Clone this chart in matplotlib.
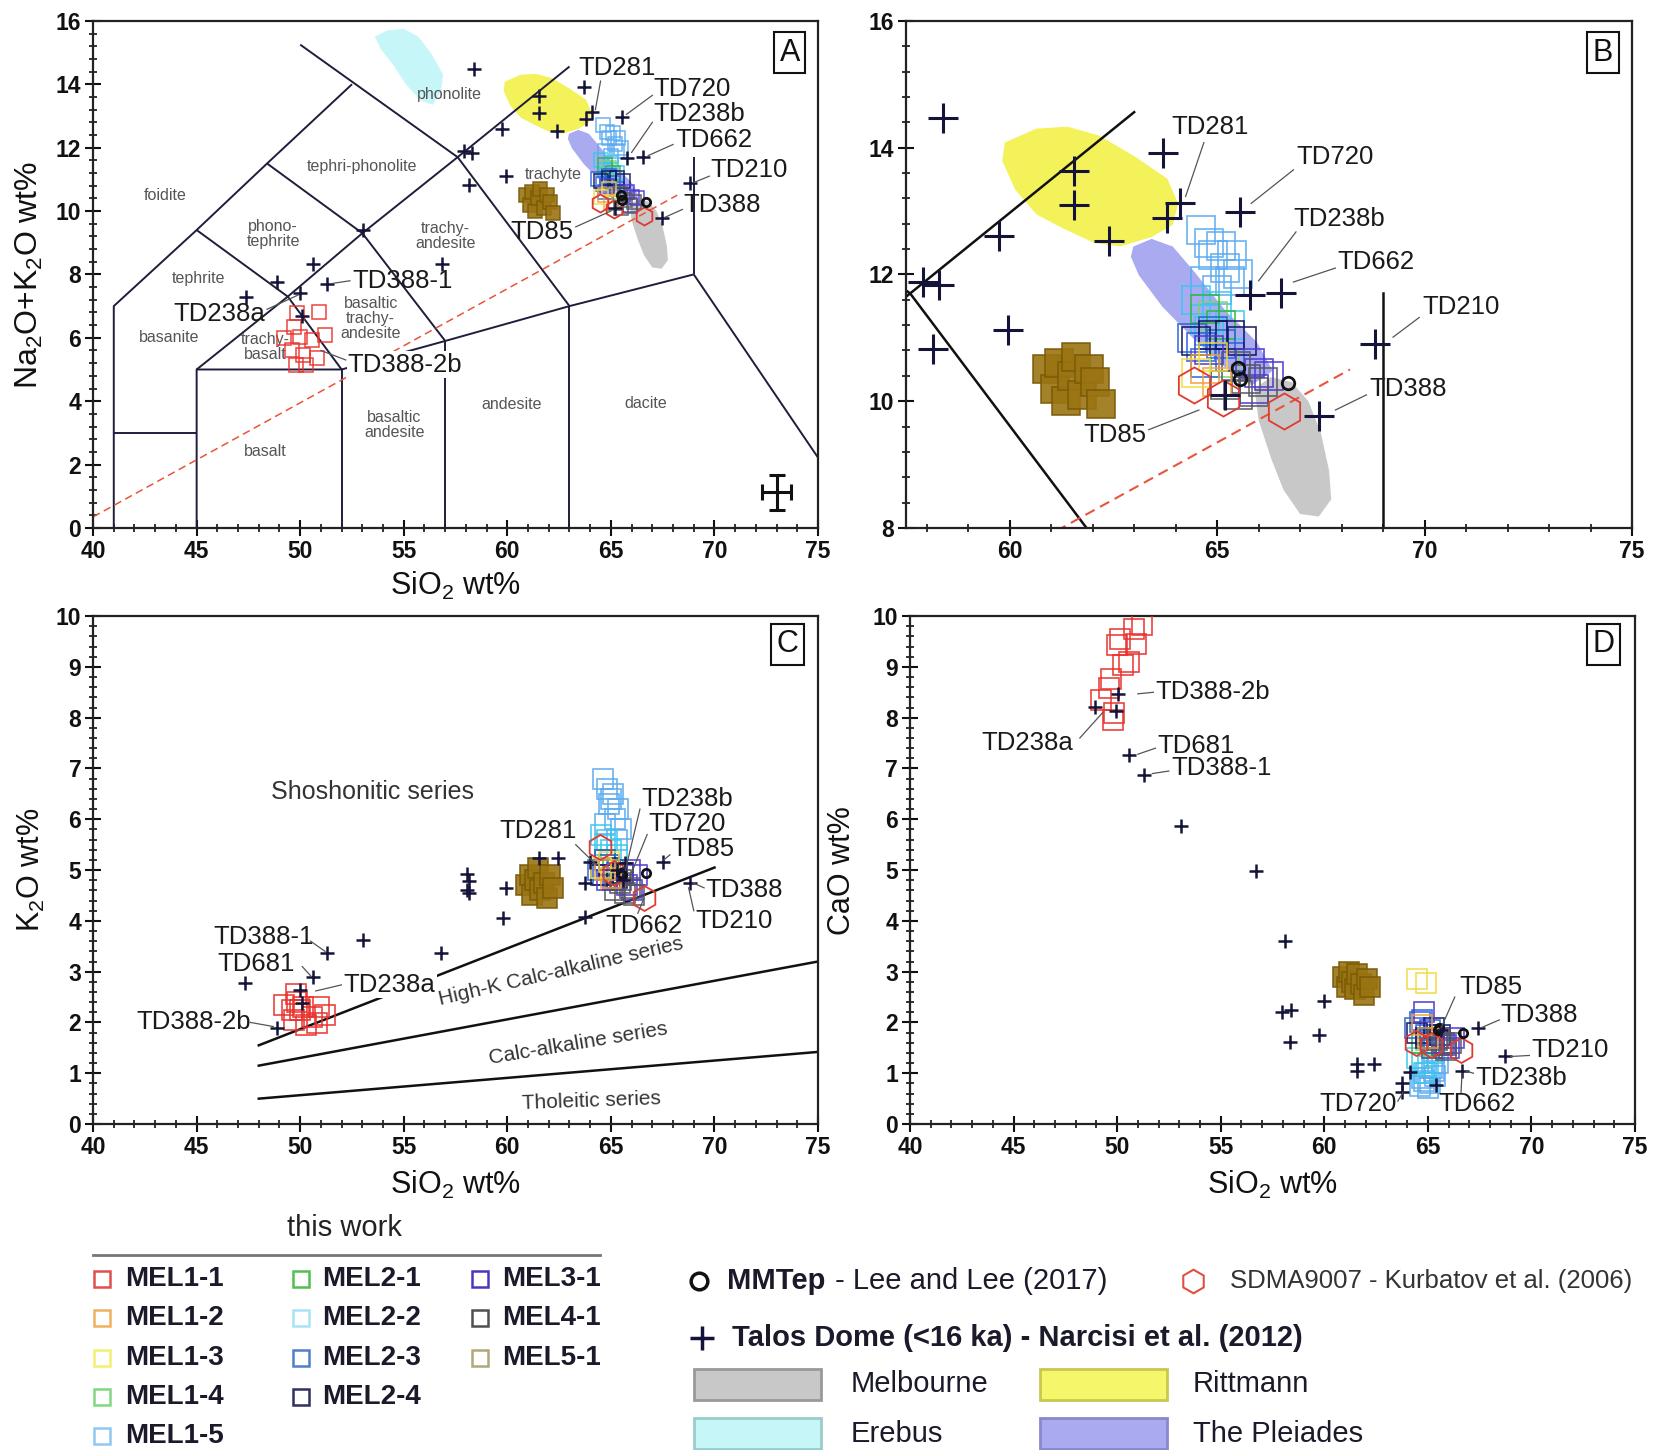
import matplotlib
matplotlib.use("Agg")
import matplotlib.pyplot as plt
from matplotlib.patches import Polygon, Rectangle
from matplotlib.ticker import MultipleLocator

plt.rcParams['font.family'] = ['Liberation Sans', 'DejaVu Sans']
plt.rcParams['mathtext.fontset'] = 'custom'
plt.rcParams['mathtext.rm'] = 'Liberation Sans'
plt.rcParams['mathtext.it'] = 'Liberation Sans:italic'
plt.rcParams['mathtext.bf'] = 'Liberation Sans:bold'

# ------------------------------------------------------------------ data
# glass shards of this work: SiO2, Na2O+K2O, K2O, CaO (wt%)
MEL1_1_SIO2 = [49.2, 49.6, 49.7, 49.8, 49.85, 50.0, 50.15, 50.3, 50.55, 50.8, 50.9, 51.2]
MEL1_1_ALK = [6.0, 5.61, 6.35, 5.14, 6.77, 6.03, 5.46, 5.14, 5.93, 5.35, 6.82, 6.09]
MEL1_1_K2O = [2.34, 2.24, 2.05, 2.57, 2.4, 2.24, 2.31, 1.95, 2.1, 1.98, 2.31, 2.15]
MEL1_1_CAO = [8.35, 8.58, 8.77, 7.95, 8.1, 9.43, 9.55, 9.03, 9.1, 9.75, 9.46, 9.82]

MEL1_2_SIO2 = [65.0, 64.7]
MEL1_2_ALK = [10.3, 10.5]
MEL1_2_K2O = [4.85, 5.0]
MEL1_2_CAO = [1.7, 1.95]

MEL1_3_SIO2 = [64.5, 64.9]
MEL1_3_ALK = [10.45, 10.7]
MEL1_3_K2O = [5.05, 5.15]
MEL1_3_CAO = [2.85, 2.78]

MEL1_4_SIO2 = [64.9, 65.2]
MEL1_4_ALK = [11.35, 10.6]
MEL1_4_K2O = [5.1, 4.9]
MEL1_4_CAO = [1.65, 1.55]

MEL1_5_SIO2 = [64.6, 64.8, 64.9, 65.1, 65.2, 65.35, 65.5, 64.7, 65.0, 65.3]
MEL1_5_ALK = [12.7, 12.5, 12.3, 12.45, 12.1, 12.3, 12.0, 11.9, 11.75, 11.9]
MEL1_5_K2O = [6.8, 6.6, 6.3, 6.5, 6.0, 6.2, 5.8, 5.9, 6.4, 5.6]
MEL1_5_CAO = [0.75, 0.85, 1.0, 0.8, 1.1, 0.95, 1.2, 0.9, 0.7, 1.05]

MEL2_1_SIO2 = [64.7, 65.1]
MEL2_1_ALK = [11.45, 11.2]
MEL2_1_K2O = [5.2, 5.0]
MEL2_1_CAO = [1.6, 1.7]

MEL2_2_SIO2 = [64.5, 64.7, 65.0, 65.3, 64.8]
MEL2_2_ALK = [11.6, 11.3, 11.5, 11.2, 11.1]
MEL2_2_K2O = [5.7, 5.5, 5.4, 5.3, 5.6]
MEL2_2_CAO = [1.3, 1.2, 1.15, 1.4, 1.0]

MEL2_3_SIO2 = [64.4, 64.6, 64.9, 65.1, 65.3, 64.7]
MEL2_3_ALK = [11.0, 10.85, 11.1, 10.9, 10.7, 10.6]
MEL2_3_K2O = [5.0, 4.9, 5.1, 4.8, 4.95, 5.2]
MEL2_3_CAO = [1.9, 2.0, 1.75, 1.85, 1.6, 2.05]

MEL2_4_SIO2 = [64.5, 64.9, 65.3, 65.6]
MEL2_4_ALK = [10.95, 11.05, 11.05, 10.95]
MEL2_4_K2O = [4.9, 5.05, 4.85, 4.95]
MEL2_4_CAO = [1.8, 1.7, 1.9, 1.75]

MEL3_1_SIO2 = [64.8, 65.8, 66.0, 66.25, 65.9]
MEL3_1_ALK = [10.8, 10.6, 10.45, 10.4, 10.2]
MEL3_1_K2O = [4.8, 4.7, 4.6, 4.9, 5.0]
MEL3_1_CAO = [2.2, 1.6, 1.5, 1.7, 1.55]

MEL4_1_SIO2 = [65.2, 65.45, 65.7, 65.9, 66.1, 65.5]
MEL4_1_ALK = [10.25, 10.55, 10.35, 10.15, 10.3, 10.1]
MEL4_1_K2O = [4.6, 4.75, 4.55, 4.65, 4.5, 4.8]
MEL4_1_CAO = [1.5, 1.65, 1.55, 1.45, 1.6, 1.7]

MEL5_1_SIO2 = [60.9, 61.1, 61.2, 61.35, 61.5, 61.6, 61.75, 61.9, 62.05, 62.2]
MEL5_1_ALK = [10.5, 10.2, 10.6, 10.0, 10.4, 10.7, 10.1, 10.5, 10.3, 9.95]
MEL5_1_K2O = [4.7, 4.9, 4.5, 4.8, 5.05, 4.6, 4.75, 4.45, 4.9, 4.65]
MEL5_1_CAO = [2.9, 2.7, 3.0, 2.8, 2.65, 2.95, 2.75, 2.55, 2.85, 2.7]

# reference tephra
MMTEP_SIO2 = [65.5, 65.55, 66.7]
MMTEP_ALK = [10.52, 10.35, 10.28]
MMTEP_K2O = [4.95, 4.9, 4.95]
MMTEP_CAO = [1.85, 1.9, 1.8]

SDMA_SIO2 = [64.45, 65.15, 66.6]
SDMA_ALK = [10.25, 10.05, 9.85]
SDMA_K2O = [5.45, 4.95, 4.45]
SDMA_CAO = [1.6, 1.55, 1.45]

# Talos Dome tephra (Narcisi et al. 2012)
TD_TAS_SIO2 = [47.4, 48.9, 50.0, 50.1, 50.6, 51.3, 53.05, 56.85, 57.9, 58.3, 58.15, 58.4,
               59.75, 59.95, 61.55, 61.55, 62.4, 63.7, 63.8, 64.1, 65.55, 65.8, 66.55,
               67.45, 68.8, 65.2]
TD_TAS_ALK = [7.3, 7.76, 7.4, 6.69, 8.32, 7.7, 9.39, 8.32, 11.88, 11.83, 10.82, 14.47,
              12.6, 11.12, 13.63, 13.1, 12.52, 13.91, 12.89, 13.12, 12.98, 11.68, 11.7,
              9.77, 10.9, 10.1]
TD_K_SIO2 = [47.35, 48.9, 50.0, 50.1, 50.6, 51.3, 53.05, 56.8, 58.05, 58.15, 58.05, 58.15,
             59.95, 59.8, 61.55, 62.45, 63.75, 63.75, 64.0, 65.7, 65.6, 67.5, 68.8, 65.3]
TD_K2O = [2.78, 1.9, 2.64, 2.39, 2.9, 3.37, 3.62, 3.37, 4.92, 4.78, 4.6, 4.54,
          4.64, 4.05, 5.23, 5.23, 4.74, 4.08, 5.16, 5.13, 4.8, 5.16, 4.74, 5.0]
TD_CA_SIO2 = [48.93, 49.93, 50.06, 50.56, 51.32, 53.08, 56.72, 58.1, 57.98, 58.4, 58.36,
              59.99, 59.74, 61.57, 61.57, 62.38, 63.76, 63.76, 64.14, 65.4, 66.65, 67.41,
              68.72, 65.65]
TD_CAO = [8.21, 8.14, 8.46, 7.26, 6.88, 5.86, 4.98, 3.61, 2.21, 2.25, 1.61,
          2.42, 1.75, 1.19, 1.05, 1.19, 0.81, 0.63, 1.02, 0.77, 1.05, 1.89,
          1.33, 1.86]

# compositional fields (TAS)
MELB_SIO2 = [65.9, 66.3, 66.8, 67.2, 67.5, 67.7, 67.75, 67.45, 67.0, 66.6, 66.3, 66.0]
MELB_ALK = [10.2, 10.38, 10.3, 10.0, 9.5, 8.9, 8.45, 8.18, 8.22, 8.6, 9.1, 9.7]
RITT_SIO2 = [59.88, 60.64, 61.40, 62.16, 63.04, 63.80, 64.06, 63.93, 63.42, 62.66, 62.03,
             61.27, 60.64, 60.13, 59.82]
RITT_ALK = [14.08, 14.30, 14.33, 14.19, 13.85, 13.51, 13.12, 12.78, 12.59, 12.44, 12.50,
            12.73, 12.95, 13.34, 13.79]
PLEI_SIO2 = [62.98, 63.42, 63.93, 64.44, 65.20, 65.96, 66.34, 65.83, 65.20, 64.44, 63.68,
             63.11, 62.92]
PLEI_ALK = [12.44, 12.56, 12.44, 12.05, 11.43, 10.93, 10.48, 10.25, 10.53, 10.98, 11.49,
            11.99, 12.28]
EREB_SIO2 = [53.6, 54.2, 55.0, 55.7, 56.3, 56.9, 56.8, 56.4, 55.8, 55.1, 54.5, 53.9]
EREB_ALK = [15.5, 15.7, 15.75, 15.5, 15.0, 14.3, 13.8, 13.35, 13.5, 14.0, 14.6, 15.1]

# TAS classification boundaries (Le Bas et al.)
TAS_LINES = [
    [(41, 0), (41, 7), (45, 9.4), (48.4, 11.5), (52.5, 14)],
    [(41, 3), (45, 3)],
    [(45, 0), (45, 5), (52, 5), (57, 5.9), (63, 7), (69, 8)],
    [(52, 0), (52, 5)],
    [(57, 0), (57, 5.9)],
    [(63, 0), (63, 7)],
    [(69, 8), (69, 11.7)],
    [(69, 8), (77.3, 0)],
    [(45, 5), (49.4, 7.3), (53, 9.3), (57.6, 11.7), (63, 14.56)],
    [(52, 5), (49.4, 7.3), (45, 9.4)],
    [(57, 5.9), (53, 9.3), (48.4, 11.5)],
    [(63, 7), (57.6, 11.7), (50, 15.25)],
]
DIVIDE_SIO2 = [40, 68.2]
DIVIDE_ALK = [0.35, 10.5]

TAS_FIELD_NAMES = [
    ("phonolite", 57.2, 13.67), ("tephri-phonolite", 53.0, 11.42), ("foidite", 43.5, 10.5),
    ("trachyte", 62.2, 11.14), ("phono-\ntephrite", 48.7, 9.28), ("trachy-\nandesite", 57.0, 9.2),
    ("tephrite", 45.1, 7.87), ("basaltic\ntrachy-\nandesite", 53.4, 6.6), ("basanite", 43.65, 6.0),
    ("trachy-\nbasalt", 48.3, 5.7), ("basaltic\nandesite", 54.55, 3.26), ("andesite", 60.2, 3.88),
    ("dacite", 66.67, 3.94), ("basalt", 48.3, 2.42),
]

# K2O vs SiO2 series boundaries (Peccerillo & Taylor)
K_LINES = [[(48, 1.55), (70, 5.05)], [(48, 1.15), (75, 3.2)], [(48, 0.5), (75, 1.42)]]
K_SERIES = [("Shoshonitic series", 53.5, 6.53, 0, 18),
            ("High-K Calc-alkaline series", 62.6, 3.0, 13, 15),
            ("Calc-alkaline series", 63.4, 1.58, 9.5, 15),
            ("Tholeitic series", 64.05, 0.46, 2, 15)]

# ------------------------------------------------------------------ styles
GROUPS = [
    ("MEL5-1", MEL5_1_SIO2, MEL5_1_ALK, MEL5_1_K2O, MEL5_1_CAO, '#7a5a08', '#9a7412'),
    ("MEL1-1", MEL1_1_SIO2, MEL1_1_ALK, MEL1_1_K2O, MEL1_1_CAO, '#e8302a', 'none'),
    ("MEL1-5", MEL1_5_SIO2, MEL1_5_ALK, MEL1_5_K2O, MEL1_5_CAO, '#5aaaf0', 'none'),
    ("MEL2-2", MEL2_2_SIO2, MEL2_2_ALK, MEL2_2_K2O, MEL2_2_CAO, '#38c8ee', 'none'),
    ("MEL1-4", MEL1_4_SIO2, MEL1_4_ALK, MEL1_4_K2O, MEL1_4_CAO, '#70d870', 'none'),
    ("MEL2-1", MEL2_1_SIO2, MEL2_1_ALK, MEL2_1_K2O, MEL2_1_CAO, '#30b840', 'none'),
    ("MEL2-3", MEL2_3_SIO2, MEL2_3_ALK, MEL2_3_K2O, MEL2_3_CAO, '#2a62d8', 'none'),
    ("MEL2-4", MEL2_4_SIO2, MEL2_4_ALK, MEL2_4_K2O, MEL2_4_CAO, '#12125e', 'none'),
    ("MEL3-1", MEL3_1_SIO2, MEL3_1_ALK, MEL3_1_K2O, MEL3_1_CAO, '#4a38d0', 'none'),
    ("MEL4-1", MEL4_1_SIO2, MEL4_1_ALK, MEL4_1_K2O, MEL4_1_CAO, '#555560', 'none'),
    ("MEL1-2", MEL1_2_SIO2, MEL1_2_ALK, MEL1_2_K2O, MEL1_2_CAO, '#f0a040', 'none'),
    ("MEL1-3", MEL1_3_SIO2, MEL1_3_ALK, MEL1_3_K2O, MEL1_3_CAO, '#f0dc40', 'none'),
]
LEGEND_COLORS = {"MEL1-1": '#e05050', "MEL1-2": '#f0b060', "MEL1-3": '#f2f070',
                 "MEL1-4": '#80d880', "MEL1-5": '#90c8f0', "MEL2-1": '#50c050',
                 "MEL2-2": '#a8e4f4', "MEL2-3": '#5080c8', "MEL2-4": '#303060',
                 "MEL3-1": '#4838c0', "MEL4-1": '#505050', "MEL5-1": '#b0a878'}
LEGEND_COLS = [["MEL1-1", "MEL1-2", "MEL1-3", "MEL1-4", "MEL1-5"],
               ["MEL2-1", "MEL2-2", "MEL2-3", "MEL2-4"],
               ["MEL3-1", "MEL4-1", "MEL5-1"]]

LINE_C = '#1e1e3c'
CROSS_C = '#14143a'
TXT_C = '#1a1a1a'

fig = plt.figure(figsize=(16.56, 14.5), dpi=100)
axA = fig.add_axes([0.0562, 0.6359, 0.4378, 0.3497])
axB = fig.add_axes([0.5471, 0.6359, 0.4384, 0.3497])
axC = fig.add_axes([0.0562, 0.2248, 0.4378, 0.3503])
axD = fig.add_axes([0.5495, 0.2248, 0.4378, 0.3503])


def style(ax, xlim, ylim, xmaj, xmin, ymaj, ymin, letter, lpos):
    ax.set_xlim(*xlim)
    ax.set_ylim(*ylim)
    ax.xaxis.set_major_locator(MultipleLocator(xmaj))
    ax.xaxis.set_minor_locator(MultipleLocator(xmin))
    ax.yaxis.set_major_locator(MultipleLocator(ymaj))
    ax.yaxis.set_minor_locator(MultipleLocator(ymin))
    ax.tick_params(which='major', direction='inout', length=11, width=1.5,
                   labelsize=16.5, colors='#111', pad=3)
    ax.tick_params(which='minor', direction='inout', length=6, width=1.2, colors='#111')
    for lab in ax.get_xticklabels() + ax.get_yticklabels():
        lab.set_fontweight('bold')
    for s in ax.spines.values():
        s.set_linewidth(1.6)
        s.set_color('#222')
    ax.text(lpos[0], lpos[1], letter, transform=ax.transAxes, fontsize=22,
            ha='center', va='center', color='#111', zorder=10,
            bbox=dict(boxstyle='square,pad=0.18', fc='white', ec='#111', lw=1.5))


def draw_fields(ax, erebus):
    fields = [(MELB_SIO2, MELB_ALK, '#c8c8c8'), (RITT_SIO2, RITT_ALK, '#f4f25a'),
              (PLEI_SIO2, PLEI_ALK, '#aaaaf0')]
    if erebus:
        fields.append((EREB_SIO2, EREB_ALK, '#c6f6f8'))
    for xs, ys, fc in fields:
        ax.add_patch(Polygon(list(zip(xs, ys)), closed=True, fc=fc, ec='none', zorder=1))


def draw_groups(ax, which, ms, mew):
    for name, si, al, k, ca, ec, fc in GROUPS:
        yv = {'alk': al, 'k': k, 'ca': ca}[which]
        ax.plot(si, yv, ls='none', marker='s', ms=ms, mec=ec, mfc=fc, mew=mew,
                alpha=0.9, zorder=3)


def draw_refs(ax, which, hex_ms, circ_ms, cross_ms, cross_mew):
    yS = {'alk': SDMA_ALK, 'k': SDMA_K2O, 'ca': SDMA_CAO}[which]
    yM = {'alk': MMTEP_ALK, 'k': MMTEP_K2O, 'ca': MMTEP_CAO}[which]
    ax.plot(SDMA_SIO2, yS, ls='none', marker='h', ms=hex_ms, mec='#e03a30', mfc='none',
            mew=1.3, zorder=4)
    ax.plot(MMTEP_SIO2, yM, ls='none', marker='o', ms=circ_ms, mec='#111', mfc='none',
            mew=2.0, zorder=5)
    xs, ys = {'alk': (TD_TAS_SIO2, TD_TAS_ALK), 'k': (TD_K_SIO2, TD_K2O),
              'ca': (TD_CA_SIO2, TD_CAO)}[which]
    ax.plot(xs, ys, ls='none', marker='+', ms=cross_ms, mec=CROSS_C, mew=cross_mew, zorder=6)


def labels(ax, items, fs=18.5):
    for it in items:
        txt, tx, ty, x0, y0, x1, y1 = it[:7]
        ha = it[7] if len(it) > 7 else 'left'
        box = it[8] if len(it) > 8 else False
        kw = {}
        if box:
            kw['bbox'] = dict(boxstyle='square,pad=0.05', fc='white', ec='none')
        ax.text(tx, ty, txt, ha=ha, va='center', fontsize=fs, color=TXT_C, zorder=8, **kw)
        ax.plot([x0, x1], [y0, y1], color='#555', lw=0.9, zorder=7)


# ------------------------------------------------------------------ panel A
style(axA, (40, 75), (0, 16), 5, 1, 2, 0.4, 'A', (0.961, 0.937))
draw_fields(axA, True)
for seg in TAS_LINES:
    axA.plot([p[0] for p in seg], [p[1] for p in seg], color=LINE_C, lw=1.4, zorder=2,
             solid_capstyle='butt')
axA.plot(DIVIDE_SIO2, DIVIDE_ALK, color='#e8553a', lw=1.1, dashes=(5, 3), zorder=2)
for name, x, y in TAS_FIELD_NAMES:
    axA.text(x, y, name, fontsize=11.5, color='#555', ha='center', va='center',
             linespacing=1.0, zorder=2)
draw_groups(axA, 'alk', 10, 1.1)
draw_refs(axA, 'alk', 13, 6, 10, 1.8)
axA.errorbar([73.0], [1.12], xerr=0.7, yerr=0.55, fmt='none', ecolor='#111',
             elinewidth=2.2, capsize=6, capthick=2.2, zorder=6)
labels(axA, [
    ("TD281", 63.45, 14.5, 64.5, 14.1, 64.25, 13.2),
    ("TD720", 67.05, 13.85, 67.0, 13.65, 65.75, 13.05),
    ("TD238b", 67.05, 13.05, 67.0, 12.8, 66.0, 11.85),
    ("TD662", 68.1, 12.25, 68.0, 12.1, 66.8, 11.75),
    ("TD210", 69.8, 11.3, 69.75, 11.1, 69.0, 10.9),
    ("TD388", 68.5, 10.2, 68.45, 10.05, 67.6, 9.8),
    ("TD85", 63.2, 9.35, 63.3, 9.5, 65.0, 10.0, 'right'),
    ("TD388-1", 52.5, 7.8, 52.4, 7.8, 51.6, 7.72),
    ("TD238a", 48.3, 6.75, 48.4, 6.9, 49.9, 7.35, 'right'),
    ("TD388-2b", 52.3, 5.15, 52.2, 5.3, 51.0, 5.6, 'left', True),
])
axA.set_ylabel('Na$_2$O+K$_2$O wt%', fontsize=23, color='#111')
axA.set_xlabel('SiO$_2$ wt%', fontsize=22, color='#111')
axA.yaxis.set_label_coords(-0.066, 0.5)
axA.xaxis.set_label_coords(0.5, -0.083)

# ------------------------------------------------------------------ panel B
style(axB, (57.5, 75), (8, 16), 5, 1, 2, 0.4, 'B', (0.96, 0.937))
draw_fields(axB, False)
for seg in TAS_LINES:
    axB.plot([p[0] for p in seg], [p[1] for p in seg], color='#111', lw=1.8, zorder=2)
axB.plot(DIVIDE_SIO2, DIVIDE_ALK, color='#e8553a', lw=1.5, dashes=(5, 3), zorder=2)
draw_groups(axB, 'alk', 20, 1.2)
draw_refs(axB, 'alk', 26, 9, 22, 2.2)
labels(axB, [
    ("TD281", 63.9, 14.33, 64.68, 14.08, 64.24, 13.23),
    ("TD720", 66.9, 13.85, 66.84, 13.65, 65.82, 13.12),
    ("TD238b", 66.84, 12.87, 66.9, 12.67, 66.0, 11.9),
    ("TD662", 67.9, 12.19, 67.85, 12.1, 66.84, 11.88),
    ("TD210", 69.94, 11.49, 69.87, 11.32, 69.24, 11.01),
    ("TD388", 68.67, 10.19, 68.6, 10.1, 67.85, 9.86),
    ("TD85", 63.3, 9.46, 63.35, 9.55, 64.56, 9.86, 'right'),
])

# ------------------------------------------------------------------ panel C
style(axC, (40, 75), (0, 10), 5, 1, 1, 0.2, 'C', (0.958, 0.945))
for seg in K_LINES:
    axC.plot([p[0] for p in seg], [p[1] for p in seg], color='#111', lw=1.8, zorder=2)
for name, x, y, rot, fs in K_SERIES:
    axC.text(x, y, name, fontsize=fs, color='#333', ha='center', va='center',
             rotation=rot, zorder=2)
draw_groups(axC, 'k', 15, 1.2)
draw_refs(axC, 'k', 18, 6, 10, 1.8)
labels(axC, [
    ("TD388-1", 45.8, 3.69, 50.5, 3.6, 51.2, 3.4),
    ("TD681", 46.0, 3.16, 50.1, 3.1, 50.5, 2.92),
    ("TD238a", 52.1, 2.74, 52.0, 2.74, 50.75, 2.62, 'left', True),
    ("TD388-2b", 42.1, 2.0, 47.6, 2.0, 48.7, 1.92),
    ("TD281", 59.6, 5.77, 63.3, 5.5, 64.3, 5.1),
    ("TD238b", 66.45, 6.4, 66.4, 6.2, 65.7, 5.0),
    ("TD720", 66.8, 5.9, 66.75, 5.7, 66.0, 4.95),
    ("TD85", 67.9, 5.41, 67.85, 5.3, 67.55, 5.2),
    ("TD388", 69.55, 4.6, 69.5, 4.65, 68.95, 4.75),
    ("TD210", 69.1, 4.0, 69.0, 4.2, 68.75, 4.65),
    ("TD662", 64.75, 3.9, 66.3, 4.15, 66.6, 4.45),
])
axC.set_ylabel('K$_2$O wt%', fontsize=22, color='#111')
axC.set_xlabel('SiO$_2$ wt%', fontsize=22, color='#111')
axC.yaxis.set_label_coords(-0.063, 0.5)
axC.xaxis.set_label_coords(0.5, -0.089)

# ------------------------------------------------------------------ panel D
style(axD, (40, 75), (0, 10), 5, 1, 1, 0.2, 'D', (0.956, 0.945))
draw_groups(axD, 'ca', 14, 1.2)
draw_refs(axD, 'ca', 18, 6, 10, 1.8)
labels(axD, [
    ("TD388-2b", 51.85, 8.5, 51.75, 8.5, 51.0, 8.47),
    ("TD238a", 47.9, 7.5, 48.2, 7.6, 49.3, 8.1, 'right'),
    ("TD681", 51.95, 7.45, 51.85, 7.4, 51.0, 7.28),
    ("TD388-1", 52.6, 7.0, 52.5, 6.95, 51.7, 6.9),
    ("TD85", 66.5, 2.7, 66.3, 2.5, 65.65, 1.9),
    ("TD388", 68.5, 2.15, 68.45, 2.05, 67.6, 1.9),
    ("TD210", 70.0, 1.45, 69.9, 1.35, 69.0, 1.33),
    ("TD238b", 67.3, 0.9, 67.2, 1.0, 66.8, 1.05),
    ("TD662", 65.5, 0.4, 66.6, 0.6, 66.65, 1.0),
    ("TD720", 63.5, 0.4, 63.55, 0.45, 63.8, 0.62, 'right'),
])
axD.set_ylabel('CaO wt%', fontsize=22, color='#111')
axD.set_xlabel('SiO$_2$ wt%', fontsize=22, color='#111')
axD.yaxis.set_label_coords(-0.073, 0.5)
axD.xaxis.set_label_coords(0.5, -0.089)

# ------------------------------------------------------------------ legend (figure pixels)
axL = fig.add_axes([0, 0, 1, 1])
axL.set_xlim(0, 1656)
axL.set_ylim(1450, 0)
axL.axis('off')

axL.text(344, 1228, 'this work', fontsize=21, ha='center', va='center', color='#222')
axL.plot([93, 600], [1255, 1255], color='#777', lw=2)
col_x = [(102, 125), (301, 322), (480, 502)]
row_y = [1279, 1318, 1358, 1397, 1436]
for (mx, tx), names in zip(col_x, LEGEND_COLS):
    for name, ry in zip(names, row_y):
        axL.plot([mx], [ry], marker='s', ms=11, mfc='none', mec=LEGEND_COLORS[name], mew=1.8)
        axL.text(tx, ry, name, fontsize=20, fontweight='bold', va='center', color='#1a1a2a')

renderer = fig.canvas.get_renderer()
axL.plot([699], [1281], marker='o', ms=12, mfc='none', mec='#111', mew=2.5)
t1 = axL.text(727, 1281, 'MMTep', fontsize=21, fontweight='bold', va='center', color='#1a1a2a')
bb = t1.get_window_extent(renderer)
axL.text(bb.x1 + 2, 1450 - 1281, ' - Lee and Lee (2017)', fontsize=21, va='center',
         color='#1a1a2a', transform=None)
axL.plot([1193], [1281], marker='h', ms=17, mfc='none', mec='#e05040', mew=1.5)
axL.text(1230, 1281, 'SDMA9007 - Kurbatov et al. (2006)', fontsize=18.5, va='center', color='#333')
axL.plot([702], [1338], marker='+', ms=17, mec=CROSS_C, mew=2.5)
axL.text(732, 1338, 'Talos Dome (<16 ka) - Narcisi et al. (2012)', fontsize=21,
         fontweight='bold', va='center', color='#1a1a2a')
patches = [(694, 1369, '#c8c8c8', '#999999', 'Melbourne', 851),
           (1040, 1369, '#f6f66a', '#c8c850', 'Rittmann', 1193),
           (694, 1418, '#c6f6f8', '#99cccc', 'Erebus', 851),
           (1040, 1418, '#aaaaf0', '#8888cc', 'The Pleiades', 1193)]
for px, py, fc, ec, name, tx in patches:
    axL.add_patch(Rectangle((px, py), 127, 31, fc=fc, ec=ec, lw=2))
    axL.text(tx, py + 15.5, name, fontsize=21, va='center', color='#1a1a2a')

fig.savefig('out.png', dpi=100)
